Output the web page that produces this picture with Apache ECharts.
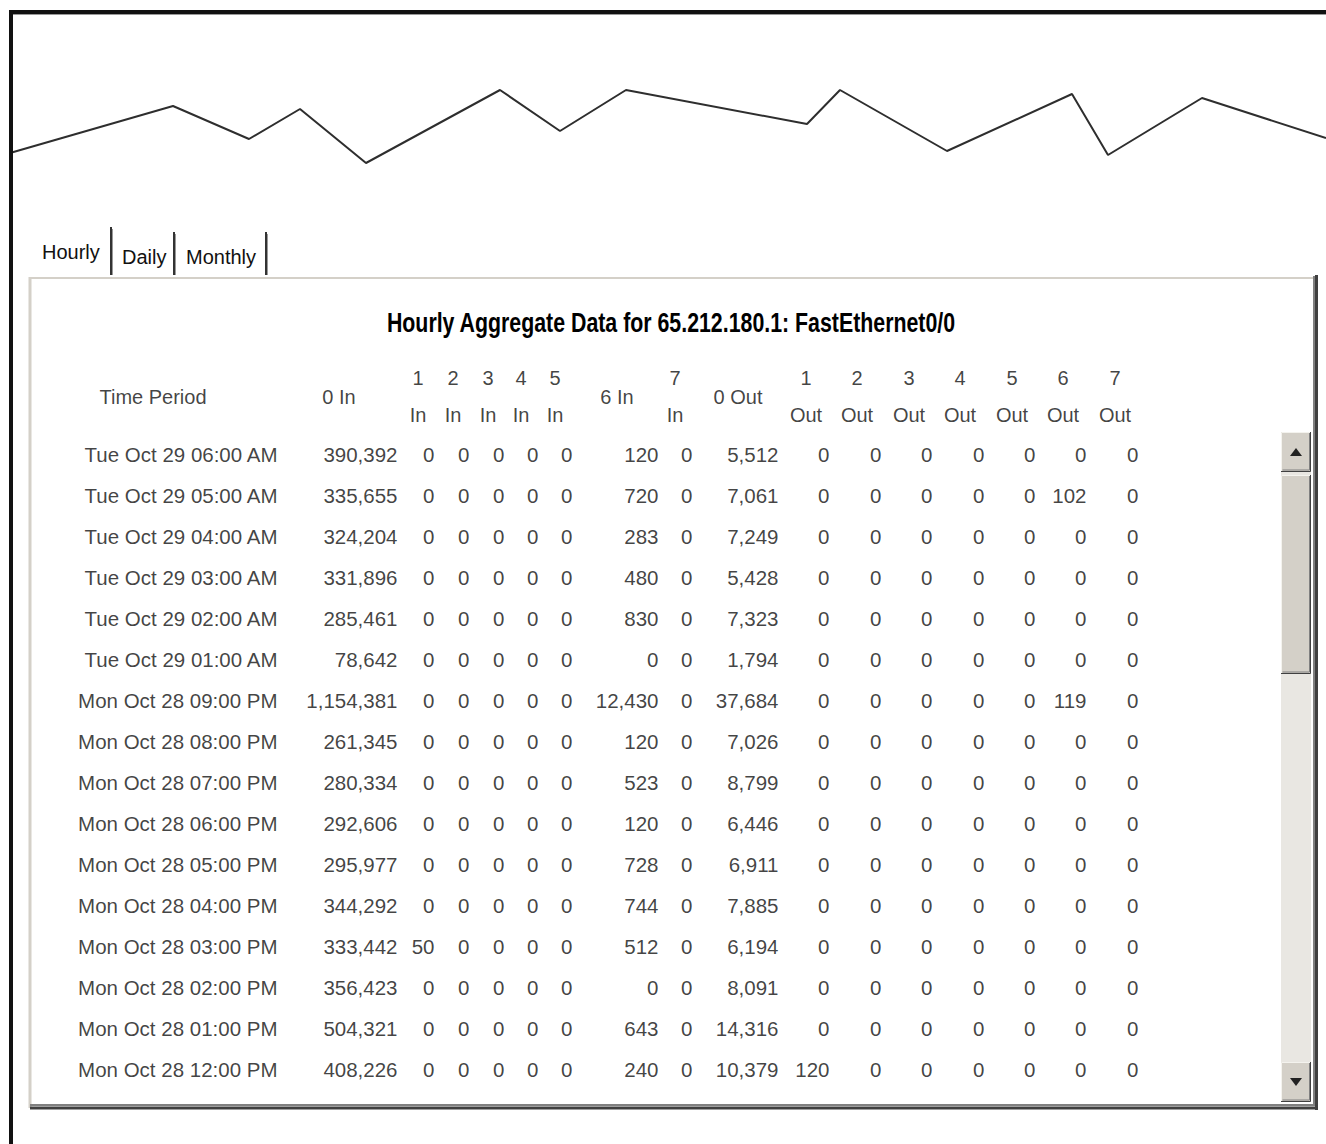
<!DOCTYPE html>
<html>
<head>
<meta charset="utf-8">
<title>Hourly Aggregate Data</title>
<script src="https://cdn.jsdelivr.net/npm/echarts@6/dist/echarts.min.js"></script>
<style>
  html, body { margin: 0; padding: 0; background: #fff; }
  #chart { width: 1326px; height: 1144px; }
</style>
</head>
<body>
<div id="chart"></div>
<script>
// zigzag trace at the top of the window
const traceX = [10, 173, 249, 300, 366, 500, 560, 626, 807, 840, 947, 1072, 1108, 1202, 1326];
const traceY = [27, 74, 41, 71, 17, 90, 49, 90, 56, 90, 29, 86, 25, 82, 42];

const title = 'Hourly Aggregate Data for 65.212.180.1: FastEthernet0/0';
const tabs = ['Hourly', 'Daily', 'Monthly'];
const headers = ['Time Period', '0 In', '1\nIn', '2\nIn', '3\nIn', '4\nIn', '5\nIn', '6 In', '7\nIn',
  '0 Out', '1\nOut', '2\nOut', '3\nOut', '4\nOut', '5\nOut', '6\nOut', '7\nOut'];

const times = ['Tue Oct 29 06:00 AM', 'Tue Oct 29 05:00 AM', 'Tue Oct 29 04:00 AM', 'Tue Oct 29 03:00 AM',
  'Tue Oct 29 02:00 AM', 'Tue Oct 29 01:00 AM', 'Mon Oct 28 09:00 PM', 'Mon Oct 28 08:00 PM',
  'Mon Oct 28 07:00 PM', 'Mon Oct 28 06:00 PM', 'Mon Oct 28 05:00 PM', 'Mon Oct 28 04:00 PM',
  'Mon Oct 28 03:00 PM', 'Mon Oct 28 02:00 PM', 'Mon Oct 28 01:00 PM', 'Mon Oct 28 12:00 PM'];
const in0 = [390392, 335655, 324204, 331896, 285461, 78642, 1154381, 261345, 280334, 292606, 295977, 344292, 333442, 356423, 504321, 408226];
const in1 = [0, 0, 0, 0, 0, 0, 0, 0, 0, 0, 0, 0, 50, 0, 0, 0];
const in2 = [0, 0, 0, 0, 0, 0, 0, 0, 0, 0, 0, 0, 0, 0, 0, 0];
const in3 = [0, 0, 0, 0, 0, 0, 0, 0, 0, 0, 0, 0, 0, 0, 0, 0];
const in4 = [0, 0, 0, 0, 0, 0, 0, 0, 0, 0, 0, 0, 0, 0, 0, 0];
const in5 = [0, 0, 0, 0, 0, 0, 0, 0, 0, 0, 0, 0, 0, 0, 0, 0];
const in6 = [120, 720, 283, 480, 830, 0, 12430, 120, 523, 120, 728, 744, 512, 0, 643, 240];
const in7 = [0, 0, 0, 0, 0, 0, 0, 0, 0, 0, 0, 0, 0, 0, 0, 0];
const out0 = [5512, 7061, 7249, 5428, 7323, 1794, 37684, 7026, 8799, 6446, 6911, 7885, 6194, 8091, 14316, 10379];
const out1 = [0, 0, 0, 0, 0, 0, 0, 0, 0, 0, 0, 0, 0, 0, 0, 120];
const out2 = [0, 0, 0, 0, 0, 0, 0, 0, 0, 0, 0, 0, 0, 0, 0, 0];
const out3 = [0, 0, 0, 0, 0, 0, 0, 0, 0, 0, 0, 0, 0, 0, 0, 0];
const out4 = [0, 0, 0, 0, 0, 0, 0, 0, 0, 0, 0, 0, 0, 0, 0, 0];
const out5 = [0, 0, 0, 0, 0, 0, 0, 0, 0, 0, 0, 0, 0, 0, 0, 0];
const out6 = [0, 102, 0, 0, 0, 0, 119, 0, 0, 0, 0, 0, 0, 0, 0, 0];
const out7 = [0, 0, 0, 0, 0, 0, 0, 0, 0, 0, 0, 0, 0, 0, 0, 0];

const columns = [times, in0, in1, in2, in3, in4, in5, in6, in7, out0, out1, out2, out3, out4, out5, out6, out7];

// table layout, in px along the page: header centres and right edge of each column
const headX = [153, 339, 418, 453, 488, 521, 555, 617, 675, 738, 806, 857, 909, 960, 1012, 1063, 1115];
const colRight = [278, 398, 435, 470, 505, 539, 573, 659, 693, 779, 830, 882, 933, 985, 1036, 1087, 1139];

const FONT = "'Liberation Sans', Arial, sans-serif";
const INK = '#111';

function fmt(v) {
  return typeof v === 'number' ? String(v).replace(/\B(?=(\d{3})+(?!\d))/g, ',') : v;
}

// a raised win95 style box
function bevel(x, y, w, h) {
  return [
    { type: 'rect', shape: { x: x, y: y, width: w, height: h }, style: { fill: '#d4d0c8' } },
    { type: 'polyline', shape: { points: [[x + 0.5, y + h - 1], [x + 0.5, y + 0.5], [x + w - 1, y + 0.5]] }, style: { stroke: '#f4f3ee', lineWidth: 1, fill: null } },
    { type: 'polyline', shape: { points: [[x + 1.5, y + h - 2], [x + w - 1.5, y + h - 2], [x + w - 1.5, y + 1]] }, style: { stroke: '#808080', lineWidth: 1, fill: null } },
    { type: 'polyline', shape: { points: [[x, y + h - 0.5], [x + w - 0.5, y + h - 0.5], [x + w - 0.5, y]] }, style: { stroke: '#404040', lineWidth: 1, fill: null } }
  ];
}

const chrome = [];
// white panel behind the table
chrome.push({ type: 'rect', z: -5, shape: { x: 30, y: 277, width: 1287, height: 831 }, style: { fill: '#fff' } });
chrome.push({ type: 'line', shape: { x1: 30, y1: 278, x2: 1314, y2: 278 }, style: { stroke: '#d4d0c8', lineWidth: 2 } });
chrome.push({ type: 'line', shape: { x1: 30, y1: 277, x2: 30, y2: 1108 }, style: { stroke: '#d4d0c8', lineWidth: 3 } });
chrome.push({ type: 'line', shape: { x1: 1314, y1: 276, x2: 1314, y2: 1106 }, style: { stroke: '#808080', lineWidth: 2 } });
chrome.push({ type: 'line', shape: { x1: 1316.5, y1: 275, x2: 1316.5, y2: 1110 }, style: { stroke: '#404040', lineWidth: 3 } });
chrome.push({ type: 'line', shape: { x1: 30, y1: 1105, x2: 1314, y2: 1105 }, style: { stroke: '#808080', lineWidth: 2 } });
chrome.push({ type: 'line', shape: { x1: 30, y1: 1108, x2: 1318, y2: 1108 }, style: { stroke: '#404040', lineWidth: 3 } });

// tabs
const tabX = [42, 122, 186];
const tabY = [252, 257, 257];
const sepX = [111, 174, 266];
const sepTop = [227, 232, 232];
tabs.forEach(function (t, i) {
  chrome.push({ type: 'text', x: tabX[i], y: tabY[i], style: { text: t, font: '20px ' + FONT, fill: INK, textVerticalAlign: 'middle' } });
  chrome.push({ type: 'line', shape: { x1: sepX[i], y1: sepTop[i], x2: sepX[i], y2: 275 }, style: { stroke: '#333', lineWidth: 2 } });
  chrome.push({ type: 'line', shape: { x1: sepX[i] + 1.5, y1: sepTop[i] + 2, x2: sepX[i] + 1.5, y2: 275 }, style: { stroke: '#999', lineWidth: 1 } });
});

// table title
chrome.push({ type: 'text', x: 671, y: 323, scaleX: 0.79, style: { text: title, font: 'bold 27px ' + FONT, fill: '#000', textAlign: 'center', textVerticalAlign: 'middle' } });

// scrollbar
chrome.push({ type: 'rect', shape: { x: 1281, y: 472, width: 30, height: 590 }, style: { fill: '#e9e7e2' } });
bevel(1281, 475, 30, 199).forEach(function (e) { chrome.push(e); });
bevel(1281, 432, 30, 40).forEach(function (e) { chrome.push(e); });
bevel(1281, 1062, 30, 40).forEach(function (e) { chrome.push(e); });
chrome.push({ type: 'polygon', shape: { points: [[1290, 456], [1302, 456], [1296, 448]] }, style: { fill: '#222' } });
chrome.push({ type: 'polygon', shape: { points: [[1290, 1078], [1302, 1078], [1296, 1086]] }, style: { fill: '#222' } });

// window frame (top and left)
chrome.push({ type: 'rect', z: 100, shape: { x: 9, y: 10, width: 1317, height: 4 }, style: { fill: '#111' } });
chrome.push({ type: 'line', z: 100, shape: { x1: 13, y1: 14.5, x2: 1326, y2: 14.5 }, style: { stroke: '#999', lineWidth: 1 } });
chrome.push({ type: 'rect', z: 100, shape: { x: 9, y: 10, width: 4, height: 1134 }, style: { fill: '#111' } });

// cells
const headData = headers.map(function (h, c) {
  return { value: [headX[c], 'header'], name: h };
});
const cellData = [];
columns.forEach(function (col, c) {
  col.forEach(function (v, r) {
    cellData.push({ value: [colRight[c], times[r]], name: fmt(v) });
  });
});

const chart = echarts.init(document.getElementById('chart'), null, { renderer: 'svg' });
chart.setOption({
  animation: false,
  backgroundColor: '#fff',
  graphic: { elements: chrome },
  grid: [
    { left: 0, top: 80, width: 1326, height: 100 },
    { left: 0, top: 359.5, width: 1326, height: 74 },
    { left: 0, top: 433.5, width: 1326, height: 657 }
  ],
  xAxis: [
    { type: 'value', gridIndex: 0, min: 0, max: 1326, show: false },
    { type: 'value', gridIndex: 1, min: 0, max: 1326, show: false },
    { type: 'value', gridIndex: 2, min: 0, max: 1326, show: false }
  ],
  yAxis: [
    { type: 'value', gridIndex: 0, min: 0, max: 100, show: false },
    { type: 'category', gridIndex: 1, data: ['header'], show: false },
    { type: 'category', gridIndex: 2, data: times, inverse: true, show: false }
  ],
  series: [
    {
      type: 'line',
      xAxisIndex: 0,
      yAxisIndex: 0,
      data: traceX.map(function (x, i) { return [x, traceY[i]]; }),
      symbol: 'none',
      lineStyle: { color: '#2e2e2e', width: 2 },
      silent: true
    },
    {
      type: 'scatter',
      xAxisIndex: 1,
      yAxisIndex: 1,
      data: headData,
      symbolSize: 1,
      itemStyle: { color: 'transparent' },
      silent: true,
      label: {
        show: true, position: 'inside', formatter: '{b}', color: INK,
        fontFamily: FONT, fontSize: 20, lineHeight: 37, align: 'center', verticalAlign: 'middle'
      }
    },
    {
      type: 'scatter',
      xAxisIndex: 2,
      yAxisIndex: 2,
      data: cellData,
      symbolSize: 1,
      itemStyle: { color: 'transparent' },
      silent: true,
      label: {
        show: true, position: 'left', distance: 0, formatter: '{b}', color: INK,
        fontFamily: FONT, fontSize: 20.5
      }
    }
  ]
});
</script>
</body>
</html>
